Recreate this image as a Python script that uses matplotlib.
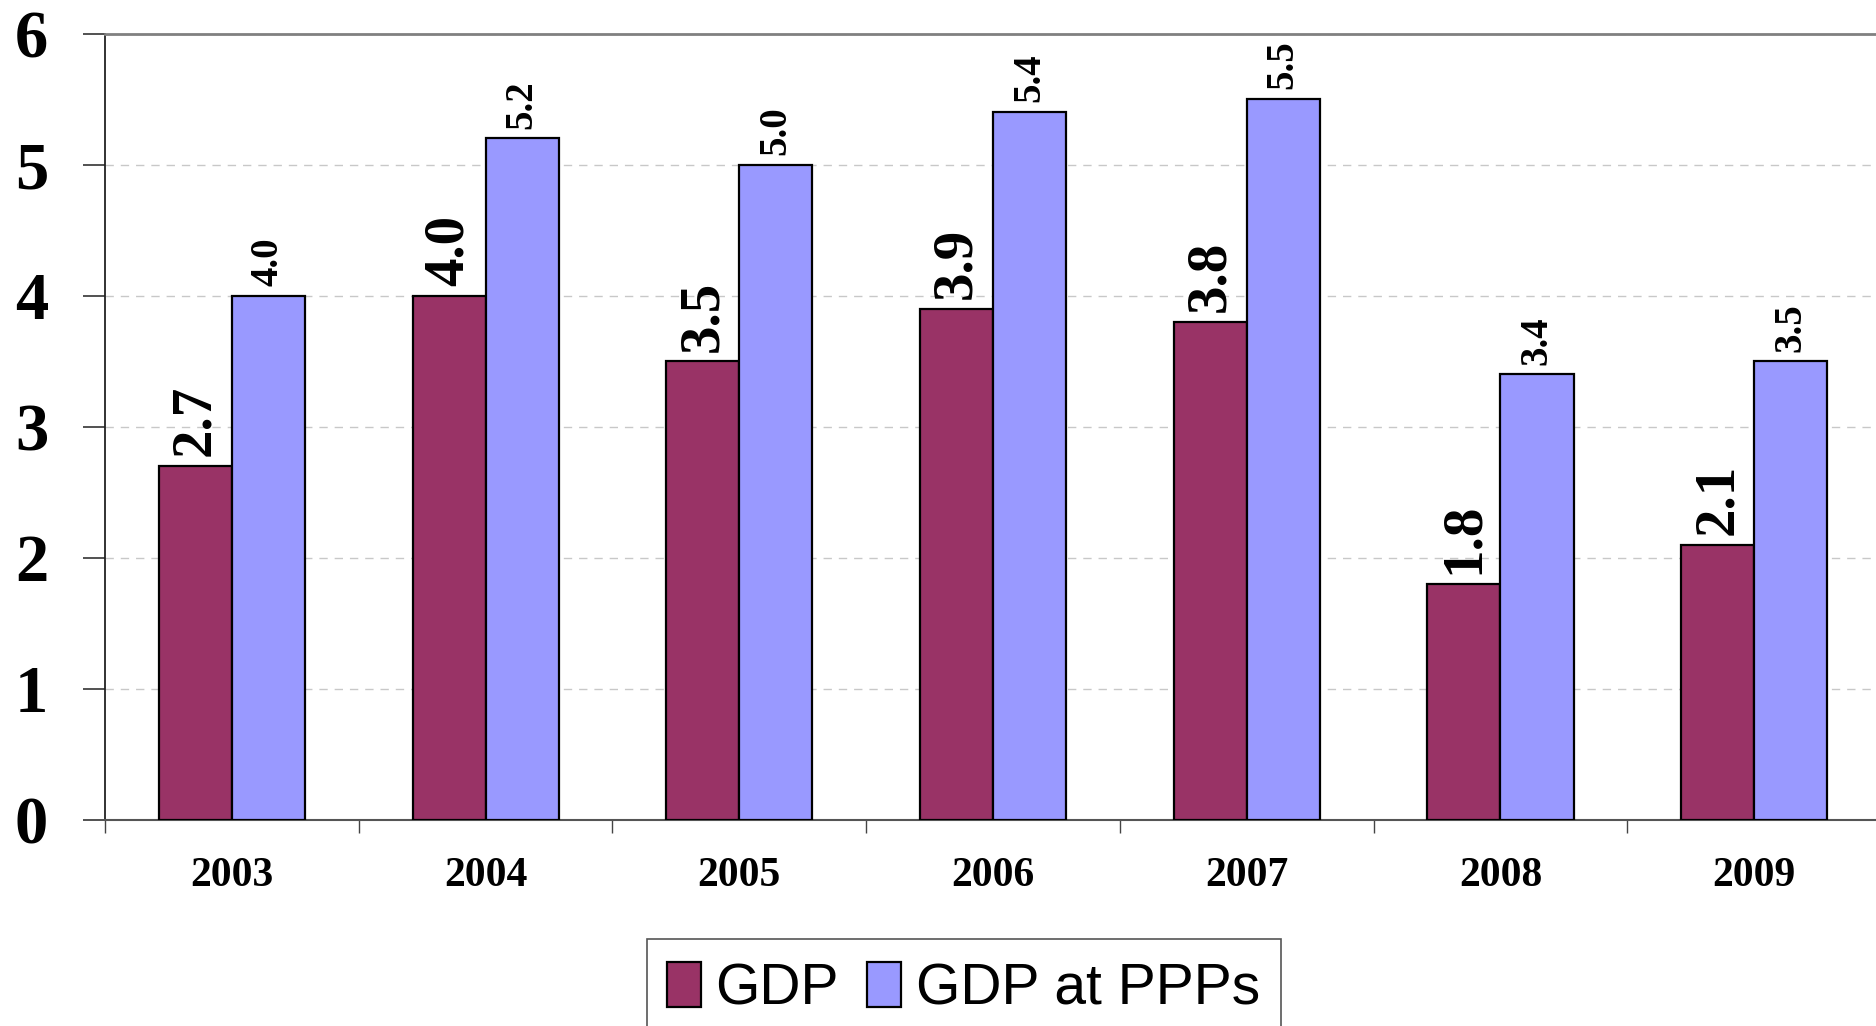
import numpy as np
import matplotlib
matplotlib.use("Agg")
from matplotlib import pyplot as plt
from matplotlib.patches import Rectangle

years = ["2003", "2004", "2005", "2006", "2007", "2008", "2009"]
gdp = [2.7, 4.0, 3.5, 3.9, 3.8, 1.8, 2.1]
gdp_ppp = [4.0, 5.2, 5.0, 5.4, 5.5, 3.4, 3.5]

serif = "Liberation Serif"
sans = "Liberation Sans"

fig = plt.figure(figsize=(18.76, 10.26), dpi=100)
ax = fig.add_axes([0.056, 0.2008, 0.9467, 0.7665])

x = np.arange(len(years))
w = 0.288
b1 = ax.bar(x - w / 2, gdp, w, color="#993366", edgecolor="black", linewidth=1.6, label="GDP", zorder=3)
b2 = ax.bar(x + w / 2, gdp_ppp, w, color="#9999FF", edgecolor="black", linewidth=1.6, label="GDP at PPPs", zorder=3)

# value labels, rotated
for rect, v in zip(b1, gdp):
    ax.annotate(f"{v:.1f}", (rect.get_x() + rect.get_width() / 2, v), xytext=(0, 7),
                textcoords="offset points", rotation=90, ha="center", va="bottom",
                fontsize=41, fontweight="bold", family=serif)
for rect, v in zip(b2, gdp_ppp):
    ax.annotate(f"{v:.1f}", (rect.get_x() + rect.get_width() / 2, v), xytext=(0, 7),
                textcoords="offset points", rotation=90, ha="center", va="bottom",
                fontsize=28, fontweight="bold", family=serif)

ax.set_xlim(-0.5, 6.5)
ax.set_ylim(0, 6)
ax.set_yticks(range(7))
ax.set_yticklabels([str(i) for i in range(7)], fontsize=48, fontweight="bold", family=serif)
ax.tick_params(axis="y", length=16, width=1.2, pad=25, color="#333333")

# category boundaries get the tick marks, centres get the labels
ax.set_xticks(np.arange(-0.5, 7.0, 1.0))
ax.set_xticklabels([])
ax.set_xticks(x, minor=True)
ax.set_xticklabels(years, minor=True, fontsize=30, fontweight="bold", family=serif)
ax.tick_params(axis="x", which="major", length=9, width=1.0, color="#444444")
ax.tick_params(axis="x", which="minor", length=0, pad=27)

ax.yaxis.grid(True, color="#c8c8c8", linestyle=(0, (6, 5)), linewidth=1.0, zorder=0)
ax.set_axisbelow(True)

ax.spines["top"].set_color("#808080")
ax.spines["top"].set_linewidth(2.0)
ax.spines["left"].set_color("#222222")
ax.spines["left"].set_linewidth(1.3)
ax.spines["bottom"].set_color("#555555")
ax.spines["bottom"].set_linewidth(1.5)
ax.spines["right"].set_visible(False)

leg = fig.legend(handles=[b1, b2], loc="center left", bbox_to_anchor=(0.3555, 0.036),
                 ncol=2, prop={"family": sans, "size": 41}, frameon=False,
                 handlelength=0.6, handleheight=0.85, handletextpad=0.25, columnspacing=0.5,
                 borderpad=0.0, borderaxespad=0)

# legend box runs off the bottom edge
box = Rectangle((0.3449, -0.05), 0.338, 0.1348, transform=fig.transFigure,
                facecolor="none", edgecolor="#555555", linewidth=1.2)
fig.add_artist(box)

fig.savefig("out.png", dpi=100)
